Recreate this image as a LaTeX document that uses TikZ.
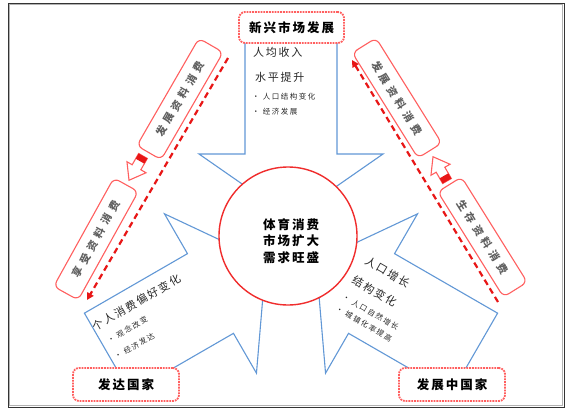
\documentclass[tikz,border=0pt]{standalone}
\usepackage{fontspec}
\newfontfamily\cjk{Noto Sans CJK SC}
\usetikzlibrary{arrows.meta}
\definecolor{arrowblue}{RGB}{98,152,214}
\definecolor{circred}{RGB}{240,45,45}
\definecolor{boxred}{RGB}{255,95,95}
\definecolor{dashred}{RGB}{232,22,22}
\definecolor{txtgray}{RGB}{95,95,95}
\definecolor{txtdark}{RGB}{40,40,40}
\newcommand\armfont{\cjk\fontsize{11}{13}\selectfont\addfontfeatures{LetterSpace=16}}
\newcommand\bulfont{\cjk\fontsize{7.5}{9}\selectfont\addfontfeatures{LetterSpace=20}}
\begin{document}
\begin{tikzpicture}[x=1pt,y=-1pt,
  bluearrow/.style={draw=arrowblue,line width=1.1pt,fill=white,line join=miter},
  hub/.style={circle,draw=circred,line width=1.4pt,fill=white,minimum size=138pt,inner sep=0pt},
  markbox/.style={draw=boxred,densely dotted,line width=1.8pt,rounded corners=6pt,fill=white,
    minimum width=105pt,minimum height=31pt,inner sep=0pt,text=black,
    font=\cjk\bfseries\fontsize{12.5}{14}\selectfont\addfontfeatures{LetterSpace=16}},
  sidebox/.style={draw=boxred,line width=1.1pt,rounded corners=6pt,fill=white,
    minimum width=124pt,minimum height=28pt,inner sep=0pt,text=txtgray,
    font=\cjk\bfseries\fontsize{10.5}{12}\selectfont\addfontfeatures{LetterSpace=42}},
  dasharrow/.style={draw=dashred,line width=2.2pt,dash pattern=on 6pt off 4pt,
    -{Triangle[length=7pt,width=7pt]}},
  blocktip/.style={draw=boxred,line width=1.1pt,fill=white,line join=miter},
  armtext/.style={anchor=west,inner sep=0pt,text=txtdark,font=\armfont},
  bullettext/.style={anchor=west,inner sep=0pt,text=txtdark,font=\bulfont},
  armblock/.style={anchor=north west,inner sep=0pt,text=txtdark},
  hubtext/.style={align=center,inner sep=0pt,text=black,
    font=\cjk\bfseries\fontsize{12.5}{16.5}\selectfont\addfontfeatures{LetterSpace=16}}
]
\useasboundingbox (0,0) rectangle (574,410);
\fill[white] (0,0) rectangle (574,410);
% frame
\draw[black!80,line width=1pt] (8,3) rectangle (564,407);
\draw[black!30,line width=0.7pt] (9.5,4.5) rectangle (562.5,405.5);

% three blue block arrows around the hub
\foreach \ang in {0,120,-120}{
  \begin{scope}[shift={(291,247)},rotate=\ang]
    \draw[bluearrow] (-46,-212) -- (46,-212) -- (46,-93) -- (92,-93) -- (0,-29)
      -- (-92,-93) -- (-46,-93) -- cycle;
  \end{scope}
}

% hub
\node[hub] (hub) at (288,236) {};
\node[hubtext] (hubt) at (291,241) {体育消费\\市场扩大\\需求旺盛};

% top arrow text
\node[armtext] (t1) at (253,52) {人均收入};
\node[armtext] (t2) at (255,77) {水平提升};
\node[bullettext] (t3) at (252,97) {• 人口结构变化};
\node[bullettext] (t4) at (252,112) {• 经济发展};

% bottom-left arrow text
\node[armblock,rotate=30] (ltext) at (90.3,323.2) {\vbox{\offinterlineskip
  \hbox{\armfont 个人消费偏好变化}\kern10.3pt
  \hbox{\kern6pt\bulfont • 观念改变}\kern10.7pt
  \hbox{\kern4pt\bulfont • 经济发达}}};

% bottom-right arrow text
\node[armblock,rotate=-30] (rtext) at (367.5,254.2) {\vbox{\offinterlineskip
  \hbox{\kern2pt\armfont 人口增长}\kern13.3pt
  \hbox{\armfont 结构变化}\kern11.3pt
  \hbox{\bulfont • 人口自然增长}\kern6.4pt
  \hbox{\bulfont • 城镇化率提高}}};

% boxes
\node[markbox] (top) at (291.5,27.5) {新兴市场发展};
\node[markbox,minimum width=106pt,minimum height=33pt] (dev) at (126,384.5) {发达国家};
\node[markbox,minimum width=106pt,minimum height=33pt] (devg) at (452,384.5) {发展中国家};

% side boxes
\node[sidebox,rotate=60] (lu) at (180,99) {发展资料消费};
\node[sidebox,rotate=61] (ll) at (96,239) {享受资料消费};
\node[sidebox,rotate=-58] (ru) at (397,98) {发展资料消费};
\node[sidebox,rotate=-58] (rl) at (482.5,237) {生存资料消费};

% small red block arrows
\begin{scope}[shift={(143,156)},rotate=240]
  \draw[blocktip] (0,-5) -- (13,-5) -- (13,-11) -- (28,0) -- (13,11) -- (13,5) -- (0,5) -- cycle;
  \fill[dashred] (0,-5) rectangle (6,5);
\end{scope}
\begin{scope}[shift={(447,181)},rotate=120]
  \draw[blocktip] (0,-5) -- (13,-5) -- (13,-11) -- (28,0) -- (13,11) -- (13,5) -- (0,5) -- cycle;
  \fill[dashred] (0,-5) rectangle (6,5);
\end{scope}

% dashed arrows
\coordinate (ls) at (228,58);
\coordinate (le) at (87,300);
\coordinate (rs) at (498,302);
\coordinate (re) at (352,60);
\draw[dasharrow] (ls) -- (le);
\draw[dasharrow] (rs) -- (re);
\end{tikzpicture}
\end{document}
